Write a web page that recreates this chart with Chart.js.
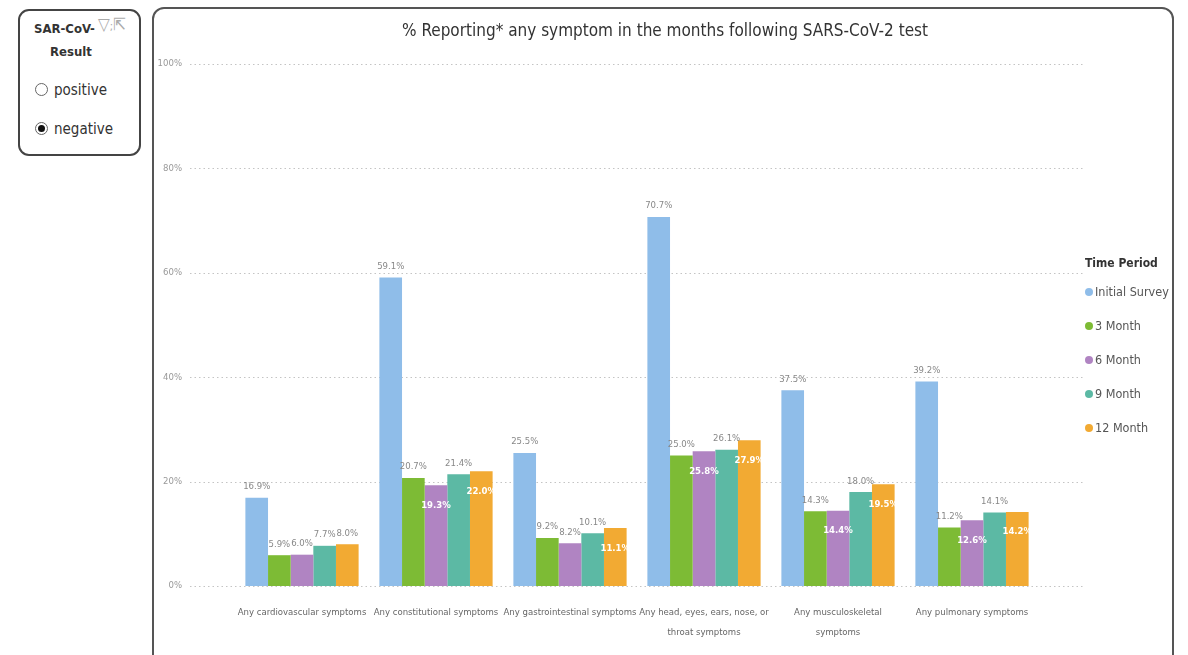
<!DOCTYPE html>
<html>
<head>
<meta charset="utf-8">
<script src="https://cdn.jsdelivr.net/npm/chart.js@4.4.0/dist/chart.umd.min.js"></script>
<style>
  body { margin:0; width:1188px; height:655px; overflow:hidden; background:#fff;
         font-family:"DejaVu Sans Condensed","Open Sans",sans-serif; }
  .frame { position:absolute; left:152px; top:7px; width:1022px; height:660px;
           border:2px solid #555; border-radius:12px; box-sizing:border-box; }
  #wrap { position:absolute; left:152px; top:0; width:1026px; height:655px; }
  .slicer { position:absolute; left:18px; top:9px; width:123px; height:147px;
            border:2px solid #444; border-radius:11px; box-sizing:border-box; color:#333; }
  .slicer .hd { position:absolute; left:14px; top:10px; font-weight:bold; font-size:13px; }
  .slicer .hd2 { position:absolute; left:30px; top:33px; font-weight:bold; font-size:13px; }
  .slicer .ic { position:absolute; left:78px; top:3px; font-size:17px; color:#aaa; }
  .radio { position:absolute; left:15px; font-size:15px; color:#333; }
  .radio span.c { display:inline-block; width:11px; height:11px; border:1.5px solid #666;
                  border-radius:50%; vertical-align:-1px; margin-right:6px; position:relative; }
  .radio span.on::after { content:""; position:absolute; left:2px; top:2px; width:7px; height:7px;
                  border-radius:50%; background:#111; }
  #legend { position:absolute; left:1085px; top:256px; color:#555; }
  #legend .t { font-weight:bold; font-size:12px; color:#333; margin-bottom:14px; }
  #legend .it { font-size:12.5px; height:34px; }
  #legend .dot { display:inline-block; width:8px; height:8px; border-radius:50%; margin-right:2px; vertical-align:0px; }
</style>
</head>
<body>
<div class="slicer">
  <div class="hd">SAR-CoV-</div>
  <div class="ic">&#9661;<span style="font-size:11px">;</span>&#8689;</div>
  <div class="hd2">Result</div>
  <div class="radio" style="top:70px"><span class="c"></span>positive</div>
  <div class="radio" style="top:109px"><span class="c on"></span>negative</div>
</div>
<div class="frame"></div>
<div id="wrap"><canvas id="chart" width="1026" height="655"></canvas></div>
<div id="legend"></div>
<script>
const categories = [
  "Any cardiovascular symptoms",
  "Any constitutional symptoms",
  "Any gastrointestinal symptoms",
  ["Any head, eyes, ears, nose, or", "throat symptoms"],
  ["Any musculoskeletal", "symptoms"],
  "Any pulmonary symptoms"
];
const seriesNames = ["Initial Survey", "3 Month", "6 Month", "9 Month", "12 Month"];
const initialSurvey = [16.9, 59.1, 25.5, 70.7, 37.5, 39.2];
const month3 = [5.9, 20.7, 9.2, 25.0, 14.3, 11.2];
const month6 = [6.0, 19.3, 8.2, 25.8, 14.4, 12.6];
const month9 = [7.7, 21.4, 10.1, 26.1, 18.0, 14.1];
const month12 = [8.0, 22.0, 11.1, 27.9, 19.5, 14.2];
const yTicks = [0, 20, 40, 60, 80, 100];
const chartTitle = '% Reporting* any symptom in the months following SARS-CoV-2 test';

const colors = ["#8fbde9", "#7dbb35", "#b084c2", "#5cb9a4", "#f2aa33"];
const seriesData = [initialSurvey, month3, month6, month9, month12];
const FONT = '"DejaVu Sans Condensed","Open Sans",sans-serif';

// html legend built from the series
const legend = document.getElementById('legend');
legend.innerHTML = '<div class="t">Time Period</div>' + seriesNames.map((n, i) =>
  `<div class="it"><span class="dot" style="background:${colors[i]}"></span>${n}</div>`).join('');

// title centred on the whole visual, not just the plot area
const titlePlugin = {
  id: 'visualTitle',
  afterDraw(chart){
    const ctx = chart.ctx;
    ctx.save();
    ctx.fillStyle = '#333';
    ctx.font = '17px ' + FONT;
    ctx.textAlign = 'center';
    ctx.textBaseline = 'middle';
    ctx.fillText(chartTitle, chart.width / 2, 32);
    ctx.restore();
  }
};

// dotted grid lines that run wider than the bar area
const gridPlugin = {
  id: 'wideGrid',
  beforeDatasetsDraw(chart){
    const ctx = chart.ctx, y = chart.scales.y;
    ctx.save();
    ctx.strokeStyle = '#c4c4c4';
    ctx.lineWidth = 1;
    ctx.setLineDash([1.5, 3]);
    yTicks.forEach(v => {
      const py = Math.round(y.getPixelForValue(v)) + 0.5;
      ctx.beginPath();
      ctx.moveTo(38, py);
      ctx.lineTo(933, py);
      ctx.stroke();
    });
    ctx.restore();
  }
};

// value labels: above the bar, or inside for 6 / 12 month when there is room
const labelPlugin = {
  id: 'valueLabels',
  afterDatasetsDraw(chart){
    const ctx = chart.ctx;
    ctx.save();
    ctx.textAlign = 'center';
    ctx.textBaseline = 'middle';
    chart.data.datasets.forEach((ds, di) => {
      chart.getDatasetMeta(di).data.forEach((bar, i) => {
        const v = ds.data[i];
        const txt = v.toFixed(1) + '%';
        const inside = (di === 2 || di === 4) && v > 10;
        if (inside){
          ctx.fillStyle = '#ffffff';
          ctx.font = 'bold 9.5px ' + FONT;
          ctx.fillText(txt, bar.x, bar.y + 20);
        } else {
          ctx.fillStyle = '#888';
          ctx.font = '9.5px ' + FONT;
          ctx.fillText(txt, bar.x, bar.y - 11);
        }
      });
    });
    ctx.restore();
  }
};

new Chart(document.getElementById('chart'), {
  type: 'bar',
  data: {
    labels: categories,
    datasets: seriesNames.map((n, i) => ({
      label: n,
      data: seriesData[i],
      backgroundColor: colors[i],
      borderWidth: 0,
      barPercentage: 1.0,
      categoryPercentage: 0.845
    }))
  },
  options: {
    responsive: false,
    animation: false,
    layout: { padding: { left: 0, right: 139, top: 64, bottom: 0 } },
    plugins: {
      legend: { display: false },
      tooltip: { enabled: false },
      title: { display: false }
    },
    scales: {
      x: {
        grid: { display: false, drawTicks: false },
        border: { display: false },
        ticks: { color: '#666', font: { family: FONT, size: 9.5, lineHeight: 2.1 }, padding: 17, maxRotation: 0, autoSkip: false },
        afterFit(scale){ scale.height = 69; }
      },
      y: {
        min: 0, max: 100,
        grid: { display: false, drawTicks: false },
        border: { display: false },
        ticks: { stepSize: 20, color: '#999', font: { family: FONT, size: 9.5 }, padding: 53,
                 callback: v => v + '%' },
        afterFit(scale){ scale.width = 83; }
      }
    }
  },
  plugins: [gridPlugin, labelPlugin, titlePlugin]
});
</script>
</body>
</html>
